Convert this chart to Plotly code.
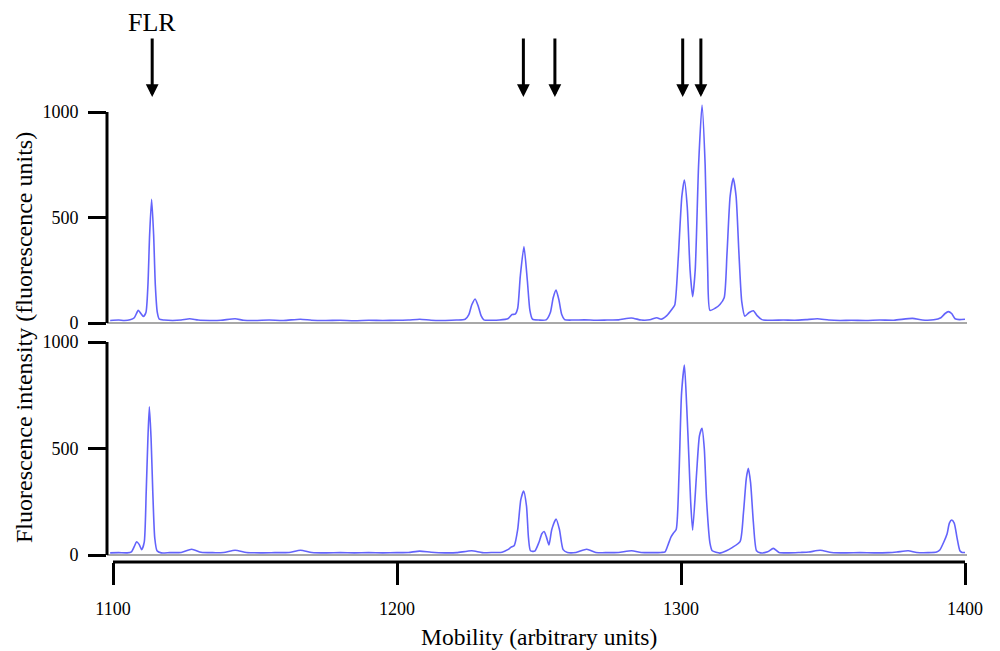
import plotly.graph_objects as go

# ---------------- data ----------------
top_x = [1099, 1102, 1104, 1106, 1107.5, 1108.9, 1109.8, 1110.7, 1111.6, 1112.3, 1112.9, 1113.6,
         1114.3, 1114.9, 1115.6, 1116.3, 1118, 1121, 1124, 1127, 1130, 1134, 1138, 1143, 1146,
         1150, 1155, 1160, 1166, 1170, 1175, 1180, 1185, 1190, 1195, 1200, 1204, 1208, 1212,
         1217, 1221, 1224, 1225.3, 1226.3, 1227.5, 1228.6, 1229.6, 1230.6, 1233, 1236, 1239,
         1240.5, 1241.6, 1242.5, 1243.4, 1244.7, 1245.9, 1246.8, 1247.7, 1250, 1252.5, 1254.0,
         1255.0, 1256, 1257.0, 1258.0, 1259, 1262, 1266, 1270, 1274, 1278, 1282.5, 1286, 1289,
         1291.5, 1293, 1295, 1296.8, 1297.8, 1299, 1300.3, 1301.2, 1302.2, 1303.2, 1304.1,
         1305.0, 1306.2, 1307.4, 1308.5, 1309.4, 1310.2, 1312, 1313.7, 1315.2, 1316.2, 1317.3,
         1318.4, 1319.4, 1320.4, 1321.4, 1322.5, 1324, 1325.5, 1326.8, 1328.5, 1332, 1336,
         1340, 1344, 1348, 1352, 1356, 1360, 1365, 1370, 1375, 1381.5, 1385, 1389, 1391.5,
         1393, 1394.1, 1395.3, 1396.5, 1398, 1400]
top_y = [12, 14, 12, 15, 25, 60, 45, 31, 50, 180, 420, 586,
         420, 180, 50, 18, 14, 12, 14, 20, 14, 12, 13, 20, 13,
         12, 14, 12, 18, 13, 12, 13, 11, 13, 12, 13, 14, 18, 13,
         12, 14, 18, 40, 85, 114, 80, 35, 15, 13, 14, 20,
         40, 42, 70, 220, 362, 200, 60, 18, 14, 15, 50,
         120, 156, 110, 40, 16, 14, 15, 13, 14, 15, 24, 14, 15,
         25, 18, 35, 65, 85, 300, 600, 678, 550, 250, 125,
         250, 750, 1033, 750, 250, 60, 70, 88, 120, 330, 600,
         686, 600, 330, 100, 32, 50, 58, 35, 16, 13, 14,
         13, 16, 20, 14, 12, 13, 12, 14, 13, 22, 14, 15, 25,
         45, 54, 45, 20, 16, 18]

bot_x = [1099, 1102, 1105, 1106.5, 1107.5, 1108.3, 1109.2, 1110.1, 1111, 1111.7, 1112.3, 1112.8,
         1113.4, 1114.0, 1114.7, 1115.5, 1117, 1120, 1124, 1127.7, 1131, 1135, 1139, 1143, 1147,
         1152, 1157, 1162, 1166, 1170, 1175, 1180, 1185, 1190, 1195, 1200, 1204, 1208, 1212,
         1217, 1221, 1226.3, 1230, 1234, 1237, 1239, 1240.1, 1241.3, 1242.5, 1243.6, 1244.6,
         1245.6, 1246.3, 1247, 1248.5, 1250.0, 1251, 1251.8, 1252.6, 1253.5, 1254.5, 1256,
         1257.2, 1258.5, 1260, 1263, 1266.8, 1270, 1274, 1278, 1282.6, 1286, 1290, 1293,
         1294.4, 1295.5, 1296.5, 1297.3, 1298.3, 1299.3, 1300.2, 1301.2, 1302.0, 1302.8,
         1303.4, 1304.1, 1305.5, 1306.5, 1307.4, 1308.2, 1309.0, 1310.2, 1311, 1313.7, 1316,
         1318, 1320.8, 1322, 1323, 1323.7, 1324.5, 1325.5, 1326.6, 1328, 1330.5, 1332.5,
         1334.5, 1338, 1342, 1345, 1349, 1353, 1358, 1363, 1368, 1373, 1376, 1380, 1383,
         1387, 1390, 1391.2, 1392.5, 1393.7, 1394.5, 1395.3, 1396.2, 1397.2, 1398.2, 1399, 1400]
bot_y = [10, 11, 10, 15, 40, 62, 50, 25, 60, 300, 550, 696,
         550, 300, 80, 20, 10, 11, 12, 27, 13, 11, 12, 22, 12,
         10, 11, 12, 22, 12, 10, 11, 10, 11, 10, 11, 12, 18, 13,
         10, 11, 20, 11, 12, 13, 25, 36, 45, 120, 260, 300,
         230, 80, 20, 18, 60, 100, 110, 85, 47, 120, 169,
         120, 25, 12, 12, 27, 12, 11, 12, 20, 12, 11, 12,
         15, 50, 85, 102, 120, 380, 760, 892, 700, 450,
         250, 117, 385, 560, 595, 500, 258, 56, 20, 9, 20,
         35, 63, 200, 360, 407, 340, 150, 20, 10, 15, 31,
         12, 10, 12, 14, 22, 12, 10, 11, 10, 11, 14, 20, 12,
         11, 14, 25, 60, 100, 150, 164, 150, 80, 20, 12, 12]

x_ticks = [1100, 1200, 1300, 1400]
y_ticks = [0, 500, 1000]
arrow_x = [1113.8, 1244.5, 1255.6, 1300.6, 1307.0]
arrow_label = ["FLR", "", "", "", ""]

# ---------------- layout geometry ----------------
W, H = 1000, 651
L, R, T, B = 107, 33, 100, 89
plot_h = H - T - B
px_per_unit = 2.84
x0 = 1100 - (113 - L) / px_per_unit
x1 = x0 + (W - L - R) / px_per_unit

def py_to_paper(py):
    return (H - B - py) / plot_h

top_dom = [py_to_paper(330), 1.0]
bot_dom = [0.0, py_to_paper(340)]
top_range = [(323 - 330) / 0.211, (323 - 100) / 0.211]
bot_range = [(555 - 562) / 0.213, (555 - 340) / 0.213]

line_col = "rgba(60,60,250,0.8)"
font = "Liberation Serif"

fig = go.Figure()
fig.add_trace(go.Scatter(x=top_x, y=top_y, mode="lines", xaxis="x", yaxis="y",
                         line=dict(color=line_col, width=1.6, shape="spline", smoothing=0.6),
                         showlegend=False, hoverinfo="skip"))
fig.add_trace(go.Scatter(x=bot_x, y=bot_y, mode="lines", xaxis="x", yaxis="y2",
                         line=dict(color=line_col, width=1.6, shape="spline", smoothing=0.6),
                         showlegend=False, hoverinfo="skip"))

yax_common = dict(tickvals=y_ticks, ticktext=[str(v) for v in y_ticks], ticks="outside",
                  ticklen=18, tickwidth=3, tickcolor="black", showline=False, showgrid=False,
                  zeroline=True, zerolinecolor="#a8a8a8", zerolinewidth=2,
                  tickfont=dict(family=font, size=18, color="black"), ticklabelstandoff=6)

fig.update_layout(
    width=W, height=H, margin=dict(l=L, r=R, t=T, b=B),
    paper_bgcolor="white", plot_bgcolor="white",
    font=dict(family=font, color="black"),
    xaxis=dict(domain=[0, 1], range=[x0, x1], anchor="y2", tickvals=x_ticks,
               ticktext=[str(v) for v in x_ticks], ticks="outside", ticklen=22, tickwidth=3,
               tickcolor="black", showline=False, showgrid=False, zeroline=False,
               tickfont=dict(family=font, size=18, color="black"), ticklabelstandoff=8),
    yaxis=dict(domain=top_dom, range=top_range, anchor="x", **yax_common),
    yaxis2=dict(domain=bot_dom, range=bot_range, anchor="x", **yax_common),
)

shapes = [
    dict(type="line", xref="paper", yref="y", x0=0, x1=0, y0=0, y1=1000,
         line=dict(color="black", width=3)),
    dict(type="line", xref="paper", yref="y2", x0=0, x1=0, y0=0, y1=1000,
         line=dict(color="black", width=3)),
    dict(type="line", xref="x", yref="paper", x0=x_ticks[0], x1=x_ticks[-1], y0=0, y1=0,
         line=dict(color="black", width=3)),
]
fig.update_layout(shapes=shapes)

ann = []
tip_y = py_to_paper(97)
for xa, lab in zip(arrow_x, arrow_label):
    ann.append(dict(x=xa, y=tip_y, xref="x", yref="paper", ax=0, ay=-60, axref="pixel",
                    ayref="pixel", showarrow=True, arrowhead=2, arrowsize=0.85, arrowwidth=3,
                    arrowcolor="black", text="", standoff=0))
    if lab:
        ann.append(dict(x=xa, y=py_to_paper(23), xref="x", yref="paper", text=lab,
                        showarrow=False, yanchor="middle", xanchor="center",
                        font=dict(family=font, size=26, color="black")))
ann.append(dict(x=(539 - L) / (W - L - R), y=py_to_paper(637), xref="paper", yref="paper",
                text="Mobility (arbitrary units)", showarrow=False, yanchor="middle",
                xanchor="center", font=dict(family=font, size=23.5, color="black")))
ann.append(dict(x=(24 - L) / (W - L - R), y=py_to_paper(338), xref="paper", yref="paper",
                text="Fluorescence intensity (fluorescence units)", showarrow=False,
                textangle=-90, yanchor="middle", xanchor="center",
                font=dict(family=font, size=24, color="black")))
fig.update_layout(annotations=ann)

fig.write_html("out.html", post_script="document.body.style.margin='0px';",
               config={"displayModeBar": False})
